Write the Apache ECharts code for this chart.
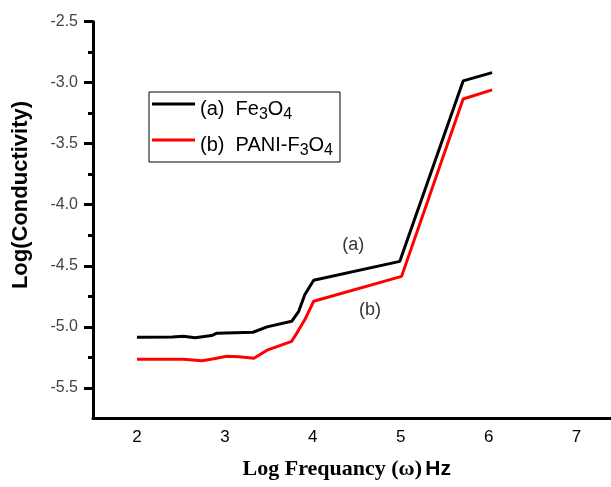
<!DOCTYPE html>
<html>
<head>
<meta charset="utf-8">
<script src="https://cdn.jsdelivr.net/npm/echarts@6/dist/echarts.min.js"></script>
<style>html,body{margin:0;padding:0;background:#fff}#c{width:611px;height:487px}</style>
</head>
<body>
<div id="c"></div>
<script>
const seriesNames = ['(a) Fe3O4', '(b) PANI-F3O4'];
const fe3o4 = [
  [2.00, -5.086], [2.40, -5.083], [2.42, -5.078], [2.53, -5.078], [2.55, -5.089],
  [2.66, -5.089], [2.68, -5.078], [2.85, -5.072], [2.91, -5.053], [3.32, -5.045],
  [3.48, -5.001], [3.76, -4.955], [3.78, -4.941], [3.84, -4.873], [3.91, -4.736],
  [4.01, -4.619], [4.99, -4.464], [5.71, -2.985], [6.04, -2.917]
];
const paniFe3o4 = [
  [2.00, -5.267], [2.53, -5.267], [2.55, -5.278], [2.74, -5.278], [2.76, -5.267],
  [2.89, -5.260], [3.02, -5.241], [3.16, -5.246], [3.33, -5.258], [3.48, -5.192],
  [3.76, -5.119], [3.82, -5.050], [3.91, -4.941], [4.01, -4.791], [5.01, -4.587],
  [5.71, -3.133], [6.04, -3.059]
];
const xTicks = [2, 3, 4, 5, 6, 7];
const yTicks = [-5.5, -5.0, -4.5, -4.0, -3.5, -3.0, -2.5];
const yMinorTicks = [-5.25, -4.75, -4.25, -3.75, -3.25, -2.75];
const annotations = [
  {label: '(a)', coord: [4.46, -4.33]},
  {label: '(b)', coord: [4.65, -4.86]}
];

const chart = echarts.init(document.getElementById('c'));
const richSub = {
  n: {fontSize: 20, lineHeight: 18, verticalAlign: 'top', fontFamily: 'Liberation Sans, Arial', color: '#000', padding: [4, 0, 0, 0]},
  s: {fontSize: 16, lineHeight: 16, verticalAlign: 'top', fontFamily: 'Liberation Sans, Arial', color: '#000', padding: [12, 0, 0, 0]}
};
function fmtLegend(name) {
  const m = name.match(/^(\(.\))\s*(.*)$/);
  let out = '{n|' + m[1] + '  }';
  const parts = m[2].split(/(\d)/);
  parts.forEach(p => {
    if (!p) return;
    out += /\d/.test(p) ? '{s|' + p + '}' : '{n|' + p + '}';
  });
  return out;
}
chart.setOption({
  animation: false,
  grid: {left: 93, top: 21.7, width: 527.5, height: 396.6, containLabel: false, outerBoundsMode: 'none'},
  legend: {
    orient: 'vertical', left: 149, top: 92,
    data: seriesNames.map(n => ({name: n, icon: 'rect'})),
    itemWidth: 43, itemHeight: 3, itemGap: 8,
    padding: [3, 7, 3, 3],
    borderColor: '#000', borderWidth: 1,
    formatter: fmtLegend,
    textStyle: {rich: richSub, fontSize: 20, color: '#000'}
  },
  xAxis: {
    type: 'value', min: 1.5, max: 7.5,
    splitLine: {show: false},
    axisLine: {lineStyle: {color: '#000', width: 3}},
    axisTick: {show: false},
    axisLabel: {customValues: xTicks, margin: 11, fontSize: 17, color: '#000', fontFamily: 'Liberation Sans, Arial'},
    name: '{t|Log Frequancy (ω)} {h|Hz}',
    nameLocation: 'middle', nameGap: 40,
    nameTextStyle: {
      padding: [0, 20, 0, 0],
      rich: {
        t: {fontFamily: 'Liberation Serif, Times New Roman', fontWeight: 'bold', fontSize: 22, color: '#000'},
        h: {fontFamily: 'Liberation Sans, Arial', fontWeight: 'bold', fontSize: 21, color: '#000'}
      }
    }
  },
  yAxis: [{
    type: 'value', min: -5.75, max: -2.5,
    splitLine: {show: false},
    axisLine: {lineStyle: {color: '#000', width: 3}},
    axisTick: {customValues: yTicks, length: 9, lineStyle: {color: '#000', width: 3}},
    axisLabel: {customValues: yTicks, margin: 15, fontSize: 16, color: '#444', fontFamily: 'Liberation Sans, Arial',
      formatter: v => v.toFixed(1)},
    name: 'Log(Conductivity)',
    nameLocation: 'middle', nameGap: 61,
    nameTextStyle: {fontFamily: 'Liberation Sans, Arial', fontWeight: 'bold', fontSize: 22, color: '#000', padding: [0, 0, 0, 50]}
  }, {
    type: 'value', min: -5.75, max: -2.5, position: 'left',
    splitLine: {show: false},
    axisLine: {show: false},
    axisTick: {customValues: yMinorTicks, length: 5, lineStyle: {color: '#000', width: 3}},
    axisLabel: {show: false}
  }],
  series: [{
    name: seriesNames[0], type: 'line', data: fe3o4, symbol: 'none',
    lineStyle: {color: '#000', width: 3}, itemStyle: {color: '#000'},
    markPoint: {
      symbol: 'circle', symbolSize: 0,
      label: {show: true, position: 'inside', formatter: p => p.name, fontSize: 18, color: '#333', fontFamily: 'Liberation Sans, Arial'},
      data: annotations.map(a => ({name: a.label, coord: a.coord}))
    }
  }, {
    name: seriesNames[1], type: 'line', data: paniFe3o4, symbol: 'none',
    lineStyle: {color: '#ff0000', width: 3}, itemStyle: {color: '#ff0000'}
  }]
});
</script>
</body>
</html>
